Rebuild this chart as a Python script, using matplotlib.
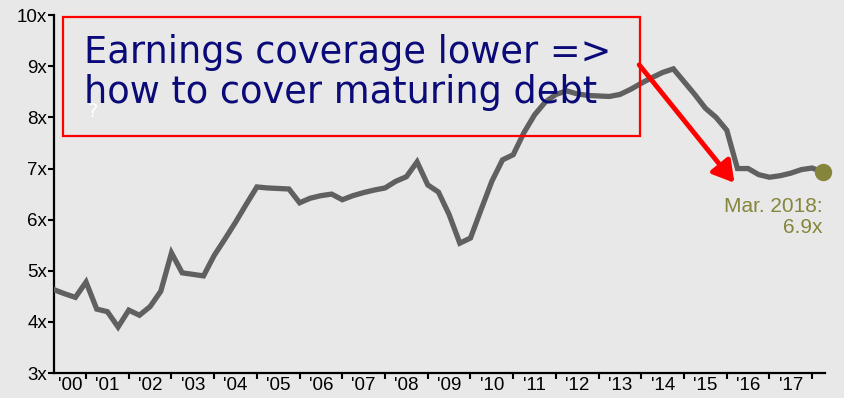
import matplotlib
matplotlib.use("Agg")
import matplotlib.pyplot as plt
from matplotlib.patches import Rectangle

# quarterly earnings coverage, Mar 2000 .. Mar 2018
start_year = 2000.25
coverage = [
    4.63, 4.55, 4.48, 4.78, 4.25, 4.20, 3.90, 4.23, 4.13, 4.30,
    4.60, 5.35, 4.96, 4.93, 4.90, 5.30, 5.62, 5.95, 6.30, 6.64,
    6.62, 6.61, 6.60, 6.33, 6.42, 6.47, 6.50, 6.39, 6.47, 6.53,
    6.58, 6.62, 6.75, 6.84, 7.13, 6.68, 6.54, 6.10, 5.54, 5.64,
    6.20, 6.75, 7.17, 7.27, 7.70, 8.05, 8.30, 8.45, 8.52, 8.46,
    8.43, 8.42, 8.41, 8.45, 8.55, 8.67, 8.78, 8.88, 8.95, 8.70,
    8.45, 8.18, 8.00, 7.75, 7.00, 7.00, 6.88, 6.83, 6.86, 6.91,
    6.98, 7.01, 6.93,
]
years = [start_year + 0.25 * i for i in range(len(coverage))]

year_ticks = list(range(2001, 2019))
year_labels = ["'%02d" % (y % 100) for y in range(2000, 2018)]
y_ticks = [3, 4, 5, 6, 7, 8, 9, 10]

bg = "#e8e8e8"
line_col = "#606060"
olive = "#85853c"

fig = plt.figure(figsize=(8.44, 3.98), dpi=100, facecolor=bg)
ax = fig.add_axes([0.064, 0.0628, 0.9135, 0.899])
ax.set_facecolor(bg)

ax.plot(years, coverage, color=line_col, lw=3.8, solid_joinstyle="miter", zorder=3)
ax.plot(years[-1], coverage[-1], "o", color=olive, ms=11.5, zorder=4, clip_on=False)

ax.set_xlim(years[0], years[-1] + 0.05)
ax.set_ylim(3, 10)

ax.set_yticks(y_ticks)
ax.set_yticklabels(["%dx" % v for v in y_ticks], family="Liberation Sans", fontsize=13.5)
ax.set_xticks(year_ticks)
ax.set_xticklabels([])
label_pos = [(years[0] + 2001) / 2] + [y + 0.5 for y in range(2001, 2018)]
ax.set_xticks(label_pos, minor=True)
ax.set_xticklabels(year_labels, minor=True, family="Liberation Sans", fontsize=13.5)
ax.tick_params(axis="x", which="minor", length=0, pad=3)
ax.tick_params(axis="both", which="major", length=4, width=1.5, color="black")
ax.tick_params(axis="y", pad=1)

for s in ["top", "right"]:
    ax.spines[s].set_visible(False)
for s in ["left", "bottom"]:
    ax.spines[s].set_linewidth(1.6)

# last value label
ax.text(years[-1], 6.45, "Mar. 2018:\n6.9x", color=olive, ha="right", va="top",
        family="Liberation Sans", fontsize=15, linespacing=1.15)

# commentary box
fig.add_artist(Rectangle((0.0746, 0.6583), 0.6836, 0.299, transform=fig.transFigure,
                         fill=False, edgecolor="red", lw=1.6))
fig.text(0.0995, 0.8417, "Earnings coverage lower =>", color="#0a0a78",
         fontsize=26.5, va="baseline", family="DejaVu Sans")
fig.text(0.0995, 0.741, "how to cover maturing debt", color="#0a0a78",
         fontsize=26.5, va="baseline", family="DejaVu Sans")
fig.text(0.104, 0.705, "?", color="white", fontsize=14, va="baseline")

ax.annotate("", xy=(2016.18, 6.72), xytext=(2013.95, 9.03),
            arrowprops=dict(arrowstyle="-|>,head_length=0.6,head_width=0.35", color="red",
                            lw=3.5, mutation_scale=21, shrinkA=0, shrinkB=0), zorder=5)

fig.savefig("out.png", dpi=100, facecolor=bg)
